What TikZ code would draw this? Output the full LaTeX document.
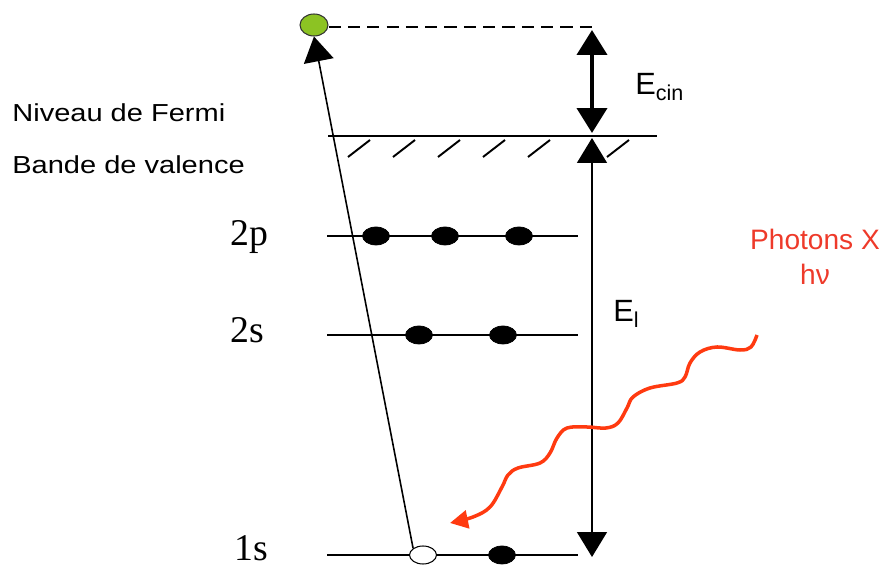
\documentclass[tikz,border=0pt]{standalone}
\usepackage{fontspec}
\usepackage{xcolor}
\usepackage{tikz}
\usetikzlibrary{arrows.meta,shapes.geometric,calc}
\newfontfamily\labelsf{Liberation Sans}
\newfontfamily\widesf{Liberation Sans}[FakeStretch=1.18]
\newfontfamily\levelrm{Liberation Serif}
\definecolor{PhotonRed}{HTML}{FF3A10}
\definecolor{PhotonText}{HTML}{EE3A2A}
\definecolor{ElecGreen}{HTML}{8CC323}
\tikzset{
  level/.style={line width=1.1pt},
  elec/.style={draw,ellipse,fill=black,minimum width=0.54cm,minimum height=0.36cm,inner sep=0pt},
  hole/.style={elec,fill=white,line width=0.6pt},
  arr/.style={-{Triangle[length=0.5cm,width=0.6cm]},line width=0.9pt},
  darr/.style={{Triangle[length=0.5cm,width=0.6cm]}-{Triangle[length=0.5cm,width=0.6cm]}},
  photon/.style={draw=PhotonRed,line width=2pt,-{Triangle[length=0.36cm,width=0.36cm]}},
  side/.style={font=\widesf\fontsize{14}{16}\selectfont,anchor=base west,inner sep=0pt},
  orb/.style={font=\levelrm\fontsize{21.5}{24}\selectfont,anchor=base west,inner sep=0pt},
  elab/.style={font=\labelsf\fontsize{17.5}{20}\selectfont,anchor=base west,inner sep=0pt},
}
\begin{document}
\begin{tikzpicture}[x=0.02cm,y=-0.02cm]
\useasboundingbox (0,0) rectangle (887,567);
\node[side] (fermi) at (12,122) {Niveau de Fermi};
\node[side] (valence) at (12,174) {Bande de valence};
\node[orb] (lab2p) at (230,246) {2p};
\node[orb] (lab2s) at (230,343) {2s};
\node[orb] (lab1s) at (234,561) {1s};
\draw[line width=1.5pt] (328,136) coordinate (fermiL) -- (657,136) coordinate (fermiR);
\foreach \hx in {348,393,438,483,528,607}
  \draw[line width=1.1pt] (\hx,157) -- ++(22,-17);
\draw[level] (327,236) coordinate (p2L) -- (578,236) coordinate (p2R);
\draw[level] (327,335) coordinate (s2L) -- (578,335) coordinate (s2R);
\draw[level] (327,555) coordinate (s1L) -- (578,555) coordinate (s1R);
\node[elec] (p2a) at (376,236) {};
\node[elec] (p2b) at (445,236) {};
\node[elec] (p2c) at (519,236) {};
\node[elec] (s2a) at (419,335) {};
\node[elec] (s2b) at (503,335) {};
\node[hole] (s1h) at (423,555) {};
\node[elec] (s1e) at (502,555) {};
\node[elec,fill=ElecGreen,draw=black!80,line width=0.6pt,minimum width=0.56cm,minimum height=0.44cm] (photoel) at (314,25) {};
\coordinate (dashEnd) at (598,27);
\draw[line width=1.3pt,dash pattern=on 7pt off 4pt] (photoel.east |- dashEnd) -- (dashEnd);
\draw[arr] (s1h.north west) -- (photoel.south);
\coordinate (kinTop) at (592,30);
\coordinate (kinBot) at (592,133);
\coordinate (ionTop) at (592,138);
\coordinate (ionBot) at (592,557);
\draw[darr,line width=2.3pt] (kinTop) -- (kinBot);
\draw[darr,line width=0.9pt] (ionTop) -- (ionBot);
\node[elab] (ecin) at (635,95) {E\textsubscript{cin}};
\node[elab] (eion) at (613,322) {E\textsubscript{l}};
\node[font=\labelsf\fontsize{16}{20}\selectfont,text=PhotonText,align=center,anchor=base] (xray) at (815,285) {Photons X\\hν};
\coordinate (xsrc) at (757,335);
\coordinate (xhit) at (450,523);
\draw[photon] plot[smooth,tension=0.6] coordinates {(xsrc) (751,347) (740,350) (717,347) (700,352) (690,363) (685,377) (677,383) (650,388) (633,397) (627,408) (618,423) (606,428) (587,427) (567,428) (557,438) (550,453) (540,463) (518,468) (508,475) (502,487) (490,507) (473,517) (xhit)};
\end{tikzpicture}
\end{document}
